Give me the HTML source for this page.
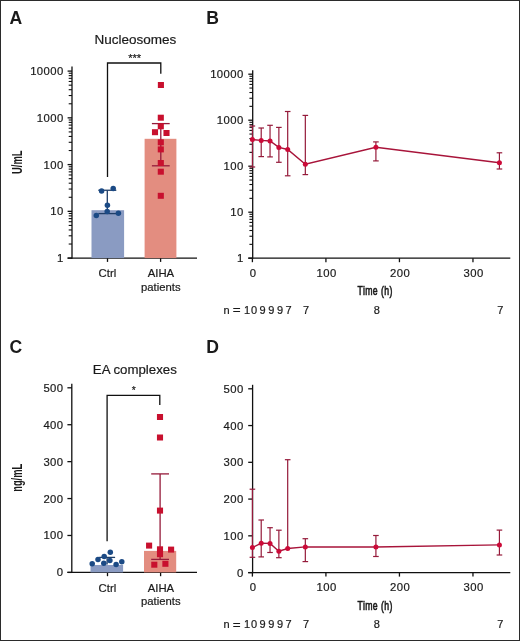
<!DOCTYPE html>
<html><head><meta charset="utf-8"><style>
html,body{margin:0;padding:0;background:#fff;overflow:hidden;}
svg{display:block;will-change:transform;}
text{font-family:"Liberation Sans", sans-serif;fill:#1a1a1a;stroke:#1a1a1a;stroke-width:0.2px;} text[font-weight=bold]{stroke-width:0;}
</style></head><body>
<svg width="520" height="641" viewBox="0 0 520 641">
<rect x="0.5" y="0.5" width="519" height="640" fill="#fff" stroke="#2b2b2b" stroke-width="1"/>
<text x="9.40" y="24.40" font-size="17.6" text-anchor="start" font-weight="bold" >A</text>
<text x="206.20" y="24.40" font-size="17.6" text-anchor="start" font-weight="bold" >B</text>
<text x="9.50" y="353.30" font-size="17.6" text-anchor="start" font-weight="bold" >C</text>
<text x="206.20" y="353.30" font-size="17.6" text-anchor="start" font-weight="bold" >D</text>
<text x="135.30" y="44.40" font-size="13.5" text-anchor="middle" font-weight="normal" >Nucleosomes</text>
<line x1="72.00" y1="66.60" x2="72.00" y2="258.75" stroke="#101010" stroke-width="1.3"/>
<line x1="67.60" y1="258.10" x2="197.00" y2="258.10" stroke="#101010" stroke-width="1.3"/>
<line x1="67.60" y1="71.10" x2="72.00" y2="71.10" stroke="#101010" stroke-width="1.3"/>
<text x="63.80" y="75.05" font-size="11.3" text-anchor="end" letter-spacing="0.45">10000</text>
<line x1="68.70" y1="103.78" x2="72.00" y2="103.78" stroke="#101010" stroke-width="1.1"/>
<line x1="68.70" y1="95.54" x2="72.00" y2="95.54" stroke="#101010" stroke-width="1.1"/>
<line x1="68.70" y1="89.70" x2="72.00" y2="89.70" stroke="#101010" stroke-width="1.1"/>
<line x1="68.70" y1="85.17" x2="72.00" y2="85.17" stroke="#101010" stroke-width="1.1"/>
<line x1="68.70" y1="81.47" x2="72.00" y2="81.47" stroke="#101010" stroke-width="1.1"/>
<line x1="68.70" y1="78.34" x2="72.00" y2="78.34" stroke="#101010" stroke-width="1.1"/>
<line x1="68.70" y1="75.63" x2="72.00" y2="75.63" stroke="#101010" stroke-width="1.1"/>
<line x1="68.70" y1="73.24" x2="72.00" y2="73.24" stroke="#101010" stroke-width="1.1"/>
<line x1="67.60" y1="117.85" x2="72.00" y2="117.85" stroke="#101010" stroke-width="1.3"/>
<text x="63.80" y="121.80" font-size="11.3" text-anchor="end" letter-spacing="0.45">1000</text>
<line x1="68.70" y1="150.53" x2="72.00" y2="150.53" stroke="#101010" stroke-width="1.1"/>
<line x1="68.70" y1="142.29" x2="72.00" y2="142.29" stroke="#101010" stroke-width="1.1"/>
<line x1="68.70" y1="136.45" x2="72.00" y2="136.45" stroke="#101010" stroke-width="1.1"/>
<line x1="68.70" y1="131.92" x2="72.00" y2="131.92" stroke="#101010" stroke-width="1.1"/>
<line x1="68.70" y1="128.22" x2="72.00" y2="128.22" stroke="#101010" stroke-width="1.1"/>
<line x1="68.70" y1="125.09" x2="72.00" y2="125.09" stroke="#101010" stroke-width="1.1"/>
<line x1="68.70" y1="122.38" x2="72.00" y2="122.38" stroke="#101010" stroke-width="1.1"/>
<line x1="68.70" y1="119.99" x2="72.00" y2="119.99" stroke="#101010" stroke-width="1.1"/>
<line x1="67.60" y1="164.60" x2="72.00" y2="164.60" stroke="#101010" stroke-width="1.3"/>
<text x="63.80" y="168.55" font-size="11.3" text-anchor="end" letter-spacing="0.45">100</text>
<line x1="68.70" y1="197.28" x2="72.00" y2="197.28" stroke="#101010" stroke-width="1.1"/>
<line x1="68.70" y1="189.04" x2="72.00" y2="189.04" stroke="#101010" stroke-width="1.1"/>
<line x1="68.70" y1="183.20" x2="72.00" y2="183.20" stroke="#101010" stroke-width="1.1"/>
<line x1="68.70" y1="178.67" x2="72.00" y2="178.67" stroke="#101010" stroke-width="1.1"/>
<line x1="68.70" y1="174.97" x2="72.00" y2="174.97" stroke="#101010" stroke-width="1.1"/>
<line x1="68.70" y1="171.84" x2="72.00" y2="171.84" stroke="#101010" stroke-width="1.1"/>
<line x1="68.70" y1="169.13" x2="72.00" y2="169.13" stroke="#101010" stroke-width="1.1"/>
<line x1="68.70" y1="166.74" x2="72.00" y2="166.74" stroke="#101010" stroke-width="1.1"/>
<line x1="67.60" y1="211.35" x2="72.00" y2="211.35" stroke="#101010" stroke-width="1.3"/>
<text x="63.80" y="215.30" font-size="11.3" text-anchor="end" letter-spacing="0.45">10</text>
<line x1="68.70" y1="244.03" x2="72.00" y2="244.03" stroke="#101010" stroke-width="1.1"/>
<line x1="68.70" y1="235.79" x2="72.00" y2="235.79" stroke="#101010" stroke-width="1.1"/>
<line x1="68.70" y1="229.95" x2="72.00" y2="229.95" stroke="#101010" stroke-width="1.1"/>
<line x1="68.70" y1="225.42" x2="72.00" y2="225.42" stroke="#101010" stroke-width="1.1"/>
<line x1="68.70" y1="221.72" x2="72.00" y2="221.72" stroke="#101010" stroke-width="1.1"/>
<line x1="68.70" y1="218.59" x2="72.00" y2="218.59" stroke="#101010" stroke-width="1.1"/>
<line x1="68.70" y1="215.88" x2="72.00" y2="215.88" stroke="#101010" stroke-width="1.1"/>
<line x1="68.70" y1="213.49" x2="72.00" y2="213.49" stroke="#101010" stroke-width="1.1"/>
<line x1="67.60" y1="258.10" x2="72.00" y2="258.10" stroke="#101010" stroke-width="1.3"/>
<text x="63.80" y="262.05" font-size="11.3" text-anchor="end" letter-spacing="0.45">1</text>
<line x1="107.50" y1="258.10" x2="107.50" y2="261.90" stroke="#101010" stroke-width="1.3"/>
<line x1="160.60" y1="258.10" x2="160.60" y2="261.90" stroke="#101010" stroke-width="1.3"/>
<text x="107.40" y="277.30" font-size="11.3" text-anchor="middle" font-weight="normal" >Ctrl</text>
<text x="160.90" y="277.30" font-size="11.3" text-anchor="middle" font-weight="normal" >AIHA</text>
<text x="160.80" y="290.70" font-size="11.3" text-anchor="middle" font-weight="normal" >patients</text>
<path d="M107.5,177 V63 H160.8 V73.8" fill="none" stroke="#101010" stroke-width="1.3"/>
<text x="134.60" y="62.00" font-size="11.0" text-anchor="middle" font-weight="normal" >***</text>
<text transform="translate(21.8,162.25) rotate(-90) scale(0.65,1)" x="0" y="0" font-size="14.5" font-weight="bold" text-anchor="middle">U/mL</text>
<rect x="91.5" y="210.2" width="32.6" height="47.90" fill="#8a9bc2"/>
<rect x="144.6" y="138.8" width="31.8" height="119.30" fill="#e38d80"/>
<line x1="107.30" y1="190.25" x2="107.30" y2="213.60" stroke="#1f3d66" stroke-width="1.3"/>
<line x1="98.30" y1="190.25" x2="116.30" y2="190.25" stroke="#1f3d66" stroke-width="1.3"/>
<line x1="98.30" y1="213.60" x2="116.30" y2="213.60" stroke="#1f3d66" stroke-width="1.3"/>
<circle cx="101.6" cy="190.9" r="2.75" fill="#1b4a85"/>
<circle cx="113.2" cy="188.5" r="2.75" fill="#1b4a85"/>
<circle cx="107.4" cy="205.2" r="2.75" fill="#1b4a85"/>
<circle cx="107.2" cy="211.6" r="2.75" fill="#1b4a85"/>
<circle cx="96.3" cy="215.5" r="2.75" fill="#1b4a85"/>
<circle cx="118.4" cy="213.2" r="2.75" fill="#1b4a85"/>
<line x1="160.80" y1="123.60" x2="160.80" y2="165.80" stroke="#951a3a" stroke-width="1.3"/>
<line x1="151.90" y1="123.60" x2="169.70" y2="123.60" stroke="#951a3a" stroke-width="1.3"/>
<line x1="151.90" y1="165.80" x2="169.70" y2="165.80" stroke="#951a3a" stroke-width="1.3"/>
<rect x="157.85" y="82.00" width="6.1" height="6.0" fill="#c8102e"/>
<rect x="157.75" y="114.70" width="6.1" height="6.0" fill="#c8102e"/>
<rect x="157.75" y="123.30" width="6.1" height="6.0" fill="#c8102e"/>
<rect x="151.95" y="129.20" width="6.1" height="6.0" fill="#c8102e"/>
<rect x="163.45" y="130.00" width="6.1" height="6.0" fill="#c8102e"/>
<rect x="157.75" y="139.30" width="6.1" height="6.0" fill="#c8102e"/>
<rect x="157.75" y="146.40" width="6.1" height="6.0" fill="#c8102e"/>
<rect x="157.75" y="160.00" width="6.1" height="6.0" fill="#c8102e"/>
<rect x="157.75" y="168.70" width="6.1" height="6.0" fill="#c8102e"/>
<rect x="157.75" y="192.80" width="6.1" height="6.0" fill="#c8102e"/>
<text x="134.80" y="374.40" font-size="13.25" text-anchor="middle" font-weight="normal" >EA complexes</text>
<line x1="71.80" y1="383.80" x2="71.80" y2="573.05" stroke="#101010" stroke-width="1.3"/>
<line x1="67.40" y1="572.40" x2="197.00" y2="572.40" stroke="#101010" stroke-width="1.3"/>
<line x1="67.40" y1="387.80" x2="71.80" y2="387.80" stroke="#101010" stroke-width="1.3"/>
<text x="63.60" y="391.75" font-size="11.3" text-anchor="end" letter-spacing="0.45">500</text>
<line x1="67.40" y1="424.72" x2="71.80" y2="424.72" stroke="#101010" stroke-width="1.3"/>
<text x="63.60" y="428.67" font-size="11.3" text-anchor="end" letter-spacing="0.45">400</text>
<line x1="67.40" y1="461.64" x2="71.80" y2="461.64" stroke="#101010" stroke-width="1.3"/>
<text x="63.60" y="465.59" font-size="11.3" text-anchor="end" letter-spacing="0.45">300</text>
<line x1="67.40" y1="498.56" x2="71.80" y2="498.56" stroke="#101010" stroke-width="1.3"/>
<text x="63.60" y="502.51" font-size="11.3" text-anchor="end" letter-spacing="0.45">200</text>
<line x1="67.40" y1="535.48" x2="71.80" y2="535.48" stroke="#101010" stroke-width="1.3"/>
<text x="63.60" y="539.43" font-size="11.3" text-anchor="end" letter-spacing="0.45">100</text>
<line x1="67.40" y1="572.40" x2="71.80" y2="572.40" stroke="#101010" stroke-width="1.3"/>
<text x="63.60" y="576.35" font-size="11.3" text-anchor="end" letter-spacing="0.45">0</text>
<line x1="107.50" y1="572.40" x2="107.50" y2="576.20" stroke="#101010" stroke-width="1.3"/>
<line x1="160.60" y1="572.40" x2="160.60" y2="576.20" stroke="#101010" stroke-width="1.3"/>
<text x="107.40" y="591.60" font-size="11.3" text-anchor="middle" font-weight="normal" >Ctrl</text>
<text x="160.90" y="591.60" font-size="11.3" text-anchor="middle" font-weight="normal" >AIHA</text>
<text x="160.80" y="605.00" font-size="11.3" text-anchor="middle" font-weight="normal" >patients</text>
<path d="M107.1,541.3 V395.4 H159.8 V405" fill="none" stroke="#101010" stroke-width="1.3"/>
<text x="133.80" y="394.30" font-size="10.2" text-anchor="middle" font-weight="normal" >*</text>
<text transform="translate(21.8,477.85) rotate(-90) scale(0.64,1)" x="0" y="0" font-size="14.5" font-weight="bold" text-anchor="middle">ng/mL</text>
<rect x="90.5" y="565.0" width="32.6" height="7.40" fill="#8a9bc2"/>
<rect x="144.0" y="550.9" width="32.2" height="21.50" fill="#e38d80"/>
<line x1="107.10" y1="557.40" x2="107.10" y2="564.50" stroke="#1f3d66" stroke-width="1.3"/>
<line x1="99.10" y1="557.40" x2="115.10" y2="557.40" stroke="#1f3d66" stroke-width="1.3"/>
<circle cx="110.3" cy="552.2" r="2.75" fill="#1b4a85"/>
<circle cx="104.2" cy="556.4" r="2.75" fill="#1b4a85"/>
<circle cx="98.0" cy="559.5" r="2.75" fill="#1b4a85"/>
<circle cx="109.9" cy="560.6" r="2.75" fill="#1b4a85"/>
<circle cx="103.8" cy="563.3" r="2.75" fill="#1b4a85"/>
<circle cx="92.2" cy="563.8" r="2.75" fill="#1b4a85"/>
<circle cx="116.1" cy="564.6" r="2.75" fill="#1b4a85"/>
<circle cx="121.8" cy="561.8" r="2.75" fill="#1b4a85"/>
<line x1="160.10" y1="473.90" x2="160.10" y2="559.40" stroke="#951a3a" stroke-width="1.3"/>
<line x1="151.20" y1="473.90" x2="169.00" y2="473.90" stroke="#951a3a" stroke-width="1.3"/>
<line x1="151.20" y1="559.40" x2="169.00" y2="559.40" stroke="#951a3a" stroke-width="1.3"/>
<rect x="156.95" y="414.00" width="6.1" height="6.0" fill="#c8102e"/>
<rect x="156.95" y="434.50" width="6.1" height="6.0" fill="#c8102e"/>
<rect x="156.95" y="507.60" width="6.1" height="6.0" fill="#c8102e"/>
<rect x="146.05" y="542.60" width="6.1" height="6.0" fill="#c8102e"/>
<rect x="156.95" y="546.30" width="6.1" height="6.0" fill="#c8102e"/>
<rect x="168.05" y="546.60" width="6.1" height="6.0" fill="#c8102e"/>
<rect x="156.95" y="551.20" width="6.1" height="6.0" fill="#c8102e"/>
<rect x="151.25" y="561.70" width="6.1" height="6.0" fill="#c8102e"/>
<rect x="162.35" y="560.80" width="6.1" height="6.0" fill="#c8102e"/>
<line x1="252.70" y1="70.20" x2="252.70" y2="258.85" stroke="#101010" stroke-width="1.3"/>
<line x1="248.30" y1="258.20" x2="510.30" y2="258.20" stroke="#101010" stroke-width="1.3"/>
<line x1="248.30" y1="74.20" x2="252.70" y2="74.20" stroke="#101010" stroke-width="1.3"/>
<text x="243.80" y="78.15" font-size="11.3" text-anchor="end" letter-spacing="0.45">10000</text>
<line x1="249.40" y1="106.35" x2="252.70" y2="106.35" stroke="#101010" stroke-width="1.1"/>
<line x1="249.40" y1="98.25" x2="252.70" y2="98.25" stroke="#101010" stroke-width="1.1"/>
<line x1="249.40" y1="92.51" x2="252.70" y2="92.51" stroke="#101010" stroke-width="1.1"/>
<line x1="249.40" y1="88.05" x2="252.70" y2="88.05" stroke="#101010" stroke-width="1.1"/>
<line x1="249.40" y1="84.41" x2="252.70" y2="84.41" stroke="#101010" stroke-width="1.1"/>
<line x1="249.40" y1="81.33" x2="252.70" y2="81.33" stroke="#101010" stroke-width="1.1"/>
<line x1="249.40" y1="78.66" x2="252.70" y2="78.66" stroke="#101010" stroke-width="1.1"/>
<line x1="249.40" y1="76.30" x2="252.70" y2="76.30" stroke="#101010" stroke-width="1.1"/>
<line x1="248.30" y1="120.20" x2="252.70" y2="120.20" stroke="#101010" stroke-width="1.3"/>
<text x="243.80" y="124.15" font-size="11.3" text-anchor="end" letter-spacing="0.45">1000</text>
<line x1="249.40" y1="152.35" x2="252.70" y2="152.35" stroke="#101010" stroke-width="1.1"/>
<line x1="249.40" y1="144.25" x2="252.70" y2="144.25" stroke="#101010" stroke-width="1.1"/>
<line x1="249.40" y1="138.51" x2="252.70" y2="138.51" stroke="#101010" stroke-width="1.1"/>
<line x1="249.40" y1="134.05" x2="252.70" y2="134.05" stroke="#101010" stroke-width="1.1"/>
<line x1="249.40" y1="130.41" x2="252.70" y2="130.41" stroke="#101010" stroke-width="1.1"/>
<line x1="249.40" y1="127.33" x2="252.70" y2="127.33" stroke="#101010" stroke-width="1.1"/>
<line x1="249.40" y1="124.66" x2="252.70" y2="124.66" stroke="#101010" stroke-width="1.1"/>
<line x1="249.40" y1="122.30" x2="252.70" y2="122.30" stroke="#101010" stroke-width="1.1"/>
<line x1="248.30" y1="166.20" x2="252.70" y2="166.20" stroke="#101010" stroke-width="1.3"/>
<text x="243.80" y="170.15" font-size="11.3" text-anchor="end" letter-spacing="0.45">100</text>
<line x1="249.40" y1="198.35" x2="252.70" y2="198.35" stroke="#101010" stroke-width="1.1"/>
<line x1="249.40" y1="190.25" x2="252.70" y2="190.25" stroke="#101010" stroke-width="1.1"/>
<line x1="249.40" y1="184.51" x2="252.70" y2="184.51" stroke="#101010" stroke-width="1.1"/>
<line x1="249.40" y1="180.05" x2="252.70" y2="180.05" stroke="#101010" stroke-width="1.1"/>
<line x1="249.40" y1="176.41" x2="252.70" y2="176.41" stroke="#101010" stroke-width="1.1"/>
<line x1="249.40" y1="173.33" x2="252.70" y2="173.33" stroke="#101010" stroke-width="1.1"/>
<line x1="249.40" y1="170.66" x2="252.70" y2="170.66" stroke="#101010" stroke-width="1.1"/>
<line x1="249.40" y1="168.30" x2="252.70" y2="168.30" stroke="#101010" stroke-width="1.1"/>
<line x1="248.30" y1="212.20" x2="252.70" y2="212.20" stroke="#101010" stroke-width="1.3"/>
<text x="243.80" y="216.15" font-size="11.3" text-anchor="end" letter-spacing="0.45">10</text>
<line x1="249.40" y1="244.35" x2="252.70" y2="244.35" stroke="#101010" stroke-width="1.1"/>
<line x1="249.40" y1="236.25" x2="252.70" y2="236.25" stroke="#101010" stroke-width="1.1"/>
<line x1="249.40" y1="230.51" x2="252.70" y2="230.51" stroke="#101010" stroke-width="1.1"/>
<line x1="249.40" y1="226.05" x2="252.70" y2="226.05" stroke="#101010" stroke-width="1.1"/>
<line x1="249.40" y1="222.41" x2="252.70" y2="222.41" stroke="#101010" stroke-width="1.1"/>
<line x1="249.40" y1="219.33" x2="252.70" y2="219.33" stroke="#101010" stroke-width="1.1"/>
<line x1="249.40" y1="216.66" x2="252.70" y2="216.66" stroke="#101010" stroke-width="1.1"/>
<line x1="249.40" y1="214.30" x2="252.70" y2="214.30" stroke="#101010" stroke-width="1.1"/>
<line x1="248.30" y1="258.20" x2="252.70" y2="258.20" stroke="#101010" stroke-width="1.3"/>
<text x="243.80" y="262.15" font-size="11.3" text-anchor="end" letter-spacing="0.45">1</text>
<line x1="252.40" y1="258.20" x2="252.40" y2="262.20" stroke="#101010" stroke-width="1.3"/>
<text x="253.03" y="276.80" font-size="11.3" text-anchor="middle" letter-spacing="0.45">0</text>
<line x1="325.92" y1="258.20" x2="325.92" y2="262.20" stroke="#101010" stroke-width="1.3"/>
<text x="326.55" y="276.80" font-size="11.3" text-anchor="middle" letter-spacing="0.45">100</text>
<line x1="399.44" y1="258.20" x2="399.44" y2="262.20" stroke="#101010" stroke-width="1.3"/>
<text x="400.06" y="276.80" font-size="11.3" text-anchor="middle" letter-spacing="0.45">200</text>
<line x1="472.96" y1="258.20" x2="472.96" y2="262.20" stroke="#101010" stroke-width="1.3"/>
<text x="473.59" y="276.80" font-size="11.3" text-anchor="middle" letter-spacing="0.45">300</text>
<text transform="translate(374.9,295.30) scale(0.645,1)" x="0.3" y="0" font-size="13.5" text-anchor="middle" letter-spacing="0.6" style="stroke-width:0.7px">Time (h)</text>
<text x="226.50" y="313.80" font-size="11.0" text-anchor="middle" font-weight="normal" >n</text>
<text x="236.80" y="314.30" font-size="13.5" text-anchor="middle" font-weight="normal" >=</text>
<text x="251.00" y="313.80" font-size="11" text-anchor="middle" letter-spacing="0.9">10</text>
<text x="262.52" y="313.80" font-size="11.0" text-anchor="middle" font-weight="normal" >9</text>
<text x="271.34" y="313.80" font-size="11.0" text-anchor="middle" font-weight="normal" >9</text>
<text x="280.17" y="313.80" font-size="11.0" text-anchor="middle" font-weight="normal" >9</text>
<text x="288.49" y="313.80" font-size="11.0" text-anchor="middle" font-weight="normal" >7</text>
<text x="306.13" y="313.80" font-size="11.0" text-anchor="middle" font-weight="normal" >7</text>
<text x="376.71" y="313.80" font-size="11.0" text-anchor="middle" font-weight="normal" >8</text>
<text x="500.23" y="313.80" font-size="11.0" text-anchor="middle" font-weight="normal" >7</text>
<line x1="252.40" y1="126.00" x2="252.40" y2="139.50" stroke="#951a3a" stroke-width="1.2"/>
<line x1="249.60" y1="126.00" x2="255.20" y2="126.00" stroke="#951a3a" stroke-width="1.2"/>
<line x1="252.40" y1="139.50" x2="252.40" y2="167.00" stroke="#951a3a" stroke-width="1.2"/>
<line x1="249.60" y1="167.00" x2="255.20" y2="167.00" stroke="#951a3a" stroke-width="1.2"/>
<line x1="261.22" y1="128.00" x2="261.22" y2="140.40" stroke="#951a3a" stroke-width="1.2"/>
<line x1="258.42" y1="128.00" x2="264.02" y2="128.00" stroke="#951a3a" stroke-width="1.2"/>
<line x1="261.22" y1="140.40" x2="261.22" y2="156.60" stroke="#951a3a" stroke-width="1.2"/>
<line x1="258.42" y1="156.60" x2="264.02" y2="156.60" stroke="#951a3a" stroke-width="1.2"/>
<line x1="270.04" y1="125.30" x2="270.04" y2="141.00" stroke="#951a3a" stroke-width="1.2"/>
<line x1="267.24" y1="125.30" x2="272.84" y2="125.30" stroke="#951a3a" stroke-width="1.2"/>
<line x1="270.04" y1="141.00" x2="270.04" y2="156.90" stroke="#951a3a" stroke-width="1.2"/>
<line x1="267.24" y1="156.90" x2="272.84" y2="156.90" stroke="#951a3a" stroke-width="1.2"/>
<line x1="278.87" y1="127.40" x2="278.87" y2="147.40" stroke="#951a3a" stroke-width="1.2"/>
<line x1="276.07" y1="127.40" x2="281.67" y2="127.40" stroke="#951a3a" stroke-width="1.2"/>
<line x1="278.87" y1="147.40" x2="278.87" y2="162.30" stroke="#951a3a" stroke-width="1.2"/>
<line x1="276.07" y1="162.30" x2="281.67" y2="162.30" stroke="#951a3a" stroke-width="1.2"/>
<line x1="287.69" y1="111.50" x2="287.69" y2="149.50" stroke="#951a3a" stroke-width="1.2"/>
<line x1="284.89" y1="111.50" x2="290.49" y2="111.50" stroke="#951a3a" stroke-width="1.2"/>
<line x1="287.69" y1="149.50" x2="287.69" y2="175.80" stroke="#951a3a" stroke-width="1.2"/>
<line x1="284.89" y1="175.80" x2="290.49" y2="175.80" stroke="#951a3a" stroke-width="1.2"/>
<line x1="305.33" y1="115.40" x2="305.33" y2="164.30" stroke="#951a3a" stroke-width="1.2"/>
<line x1="302.53" y1="115.40" x2="308.13" y2="115.40" stroke="#951a3a" stroke-width="1.2"/>
<line x1="305.33" y1="164.30" x2="305.33" y2="174.60" stroke="#951a3a" stroke-width="1.2"/>
<line x1="302.53" y1="174.60" x2="308.13" y2="174.60" stroke="#951a3a" stroke-width="1.2"/>
<line x1="375.91" y1="141.90" x2="375.91" y2="147.20" stroke="#951a3a" stroke-width="1.2"/>
<line x1="373.11" y1="141.90" x2="378.71" y2="141.90" stroke="#951a3a" stroke-width="1.2"/>
<line x1="375.91" y1="147.20" x2="375.91" y2="160.90" stroke="#951a3a" stroke-width="1.2"/>
<line x1="373.11" y1="160.90" x2="378.71" y2="160.90" stroke="#951a3a" stroke-width="1.2"/>
<line x1="499.43" y1="152.80" x2="499.43" y2="162.80" stroke="#951a3a" stroke-width="1.2"/>
<line x1="496.63" y1="152.80" x2="502.23" y2="152.80" stroke="#951a3a" stroke-width="1.2"/>
<line x1="499.43" y1="162.80" x2="499.43" y2="169.00" stroke="#951a3a" stroke-width="1.2"/>
<line x1="496.63" y1="169.00" x2="502.23" y2="169.00" stroke="#951a3a" stroke-width="1.2"/>
<path d="M252.40,139.50 L261.22,140.40 L270.04,141.00 L278.87,147.40 L287.69,149.50 L305.33,164.30 L375.91,147.20 L499.43,162.80" fill="none" stroke="#a8143a" stroke-width="1.45"/>
<circle cx="252.40" cy="139.50" r="2.5" fill="#cc0a38"/>
<circle cx="261.22" cy="140.40" r="2.5" fill="#cc0a38"/>
<circle cx="270.04" cy="141.00" r="2.5" fill="#cc0a38"/>
<circle cx="278.87" cy="147.40" r="2.5" fill="#cc0a38"/>
<circle cx="287.69" cy="149.50" r="2.5" fill="#cc0a38"/>
<circle cx="305.33" cy="164.30" r="2.5" fill="#cc0a38"/>
<circle cx="375.91" cy="147.20" r="2.5" fill="#cc0a38"/>
<circle cx="499.43" cy="162.80" r="2.5" fill="#cc0a38"/>
<line x1="252.60" y1="384.80" x2="252.60" y2="573.25" stroke="#101010" stroke-width="1.3"/>
<line x1="248.20" y1="572.60" x2="510.30" y2="572.60" stroke="#101010" stroke-width="1.3"/>
<line x1="248.20" y1="388.80" x2="252.60" y2="388.80" stroke="#101010" stroke-width="1.3"/>
<text x="243.70" y="392.75" font-size="11.3" text-anchor="end" letter-spacing="0.45">500</text>
<line x1="248.20" y1="425.56" x2="252.60" y2="425.56" stroke="#101010" stroke-width="1.3"/>
<text x="243.70" y="429.51" font-size="11.3" text-anchor="end" letter-spacing="0.45">400</text>
<line x1="248.20" y1="462.32" x2="252.60" y2="462.32" stroke="#101010" stroke-width="1.3"/>
<text x="243.70" y="466.27" font-size="11.3" text-anchor="end" letter-spacing="0.45">300</text>
<line x1="248.20" y1="499.08" x2="252.60" y2="499.08" stroke="#101010" stroke-width="1.3"/>
<text x="243.70" y="503.03" font-size="11.3" text-anchor="end" letter-spacing="0.45">200</text>
<line x1="248.20" y1="535.84" x2="252.60" y2="535.84" stroke="#101010" stroke-width="1.3"/>
<text x="243.70" y="539.79" font-size="11.3" text-anchor="end" letter-spacing="0.45">100</text>
<line x1="248.20" y1="572.60" x2="252.60" y2="572.60" stroke="#101010" stroke-width="1.3"/>
<text x="243.70" y="576.55" font-size="11.3" text-anchor="end" letter-spacing="0.45">0</text>
<line x1="252.40" y1="572.60" x2="252.40" y2="576.60" stroke="#101010" stroke-width="1.3"/>
<text x="253.03" y="591.20" font-size="11.3" text-anchor="middle" letter-spacing="0.45">0</text>
<line x1="325.92" y1="572.60" x2="325.92" y2="576.60" stroke="#101010" stroke-width="1.3"/>
<text x="326.55" y="591.20" font-size="11.3" text-anchor="middle" letter-spacing="0.45">100</text>
<line x1="399.44" y1="572.60" x2="399.44" y2="576.60" stroke="#101010" stroke-width="1.3"/>
<text x="400.06" y="591.20" font-size="11.3" text-anchor="middle" letter-spacing="0.45">200</text>
<line x1="472.96" y1="572.60" x2="472.96" y2="576.60" stroke="#101010" stroke-width="1.3"/>
<text x="473.59" y="591.20" font-size="11.3" text-anchor="middle" letter-spacing="0.45">300</text>
<text transform="translate(374.9,610.20) scale(0.645,1)" x="0.3" y="0" font-size="13.5" text-anchor="middle" letter-spacing="0.6" style="stroke-width:0.7px">Time (h)</text>
<text x="226.50" y="628.20" font-size="11.0" text-anchor="middle" font-weight="normal" >n</text>
<text x="236.80" y="628.70" font-size="13.5" text-anchor="middle" font-weight="normal" >=</text>
<text x="251.00" y="628.20" font-size="11" text-anchor="middle" letter-spacing="0.9">10</text>
<text x="262.52" y="628.20" font-size="11.0" text-anchor="middle" font-weight="normal" >9</text>
<text x="271.34" y="628.20" font-size="11.0" text-anchor="middle" font-weight="normal" >9</text>
<text x="280.17" y="628.20" font-size="11.0" text-anchor="middle" font-weight="normal" >9</text>
<text x="288.49" y="628.20" font-size="11.0" text-anchor="middle" font-weight="normal" >7</text>
<text x="306.13" y="628.20" font-size="11.0" text-anchor="middle" font-weight="normal" >7</text>
<text x="376.71" y="628.20" font-size="11.0" text-anchor="middle" font-weight="normal" >8</text>
<text x="500.23" y="628.20" font-size="11.0" text-anchor="middle" font-weight="normal" >7</text>
<line x1="252.40" y1="489.20" x2="252.40" y2="547.60" stroke="#951a3a" stroke-width="1.2"/>
<line x1="249.60" y1="489.20" x2="255.20" y2="489.20" stroke="#951a3a" stroke-width="1.2"/>
<line x1="252.40" y1="547.60" x2="252.40" y2="557.30" stroke="#951a3a" stroke-width="1.2"/>
<line x1="249.60" y1="557.30" x2="255.20" y2="557.30" stroke="#951a3a" stroke-width="1.2"/>
<line x1="261.22" y1="520.00" x2="261.22" y2="543.20" stroke="#951a3a" stroke-width="1.2"/>
<line x1="258.42" y1="520.00" x2="264.02" y2="520.00" stroke="#951a3a" stroke-width="1.2"/>
<line x1="261.22" y1="543.20" x2="261.22" y2="556.90" stroke="#951a3a" stroke-width="1.2"/>
<line x1="258.42" y1="556.90" x2="264.02" y2="556.90" stroke="#951a3a" stroke-width="1.2"/>
<line x1="270.04" y1="527.70" x2="270.04" y2="543.40" stroke="#951a3a" stroke-width="1.2"/>
<line x1="267.24" y1="527.70" x2="272.84" y2="527.70" stroke="#951a3a" stroke-width="1.2"/>
<line x1="270.04" y1="543.40" x2="270.04" y2="552.50" stroke="#951a3a" stroke-width="1.2"/>
<line x1="267.24" y1="552.50" x2="272.84" y2="552.50" stroke="#951a3a" stroke-width="1.2"/>
<line x1="278.87" y1="530.20" x2="278.87" y2="551.20" stroke="#951a3a" stroke-width="1.2"/>
<line x1="276.07" y1="530.20" x2="281.67" y2="530.20" stroke="#951a3a" stroke-width="1.2"/>
<line x1="278.87" y1="551.20" x2="278.87" y2="557.70" stroke="#951a3a" stroke-width="1.2"/>
<line x1="276.07" y1="557.70" x2="281.67" y2="557.70" stroke="#951a3a" stroke-width="1.2"/>
<line x1="287.69" y1="459.70" x2="287.69" y2="548.50" stroke="#951a3a" stroke-width="1.2"/>
<line x1="284.89" y1="459.70" x2="290.49" y2="459.70" stroke="#951a3a" stroke-width="1.2"/>
<line x1="305.33" y1="538.70" x2="305.33" y2="546.90" stroke="#951a3a" stroke-width="1.2"/>
<line x1="302.53" y1="538.70" x2="308.13" y2="538.70" stroke="#951a3a" stroke-width="1.2"/>
<line x1="305.33" y1="546.90" x2="305.33" y2="561.60" stroke="#951a3a" stroke-width="1.2"/>
<line x1="302.53" y1="561.60" x2="308.13" y2="561.60" stroke="#951a3a" stroke-width="1.2"/>
<line x1="375.91" y1="535.50" x2="375.91" y2="546.90" stroke="#951a3a" stroke-width="1.2"/>
<line x1="373.11" y1="535.50" x2="378.71" y2="535.50" stroke="#951a3a" stroke-width="1.2"/>
<line x1="375.91" y1="546.90" x2="375.91" y2="556.50" stroke="#951a3a" stroke-width="1.2"/>
<line x1="373.11" y1="556.50" x2="378.71" y2="556.50" stroke="#951a3a" stroke-width="1.2"/>
<line x1="499.43" y1="530.10" x2="499.43" y2="544.90" stroke="#951a3a" stroke-width="1.2"/>
<line x1="496.63" y1="530.10" x2="502.23" y2="530.10" stroke="#951a3a" stroke-width="1.2"/>
<line x1="499.43" y1="544.90" x2="499.43" y2="555.00" stroke="#951a3a" stroke-width="1.2"/>
<line x1="496.63" y1="555.00" x2="502.23" y2="555.00" stroke="#951a3a" stroke-width="1.2"/>
<path d="M252.40,547.60 L261.22,543.20 L270.04,543.40 L278.87,551.20 L287.69,548.50 L305.33,546.90 L375.91,546.90 L499.43,544.90" fill="none" stroke="#a8143a" stroke-width="1.45"/>
<circle cx="252.40" cy="547.60" r="2.5" fill="#cc0a38"/>
<circle cx="261.22" cy="543.20" r="2.5" fill="#cc0a38"/>
<circle cx="270.04" cy="543.40" r="2.5" fill="#cc0a38"/>
<circle cx="278.87" cy="551.20" r="2.5" fill="#cc0a38"/>
<circle cx="287.69" cy="548.50" r="2.5" fill="#cc0a38"/>
<circle cx="305.33" cy="546.90" r="2.5" fill="#cc0a38"/>
<circle cx="375.91" cy="546.90" r="2.5" fill="#cc0a38"/>
<circle cx="499.43" cy="544.90" r="2.5" fill="#cc0a38"/>
</svg>
</body></html>
